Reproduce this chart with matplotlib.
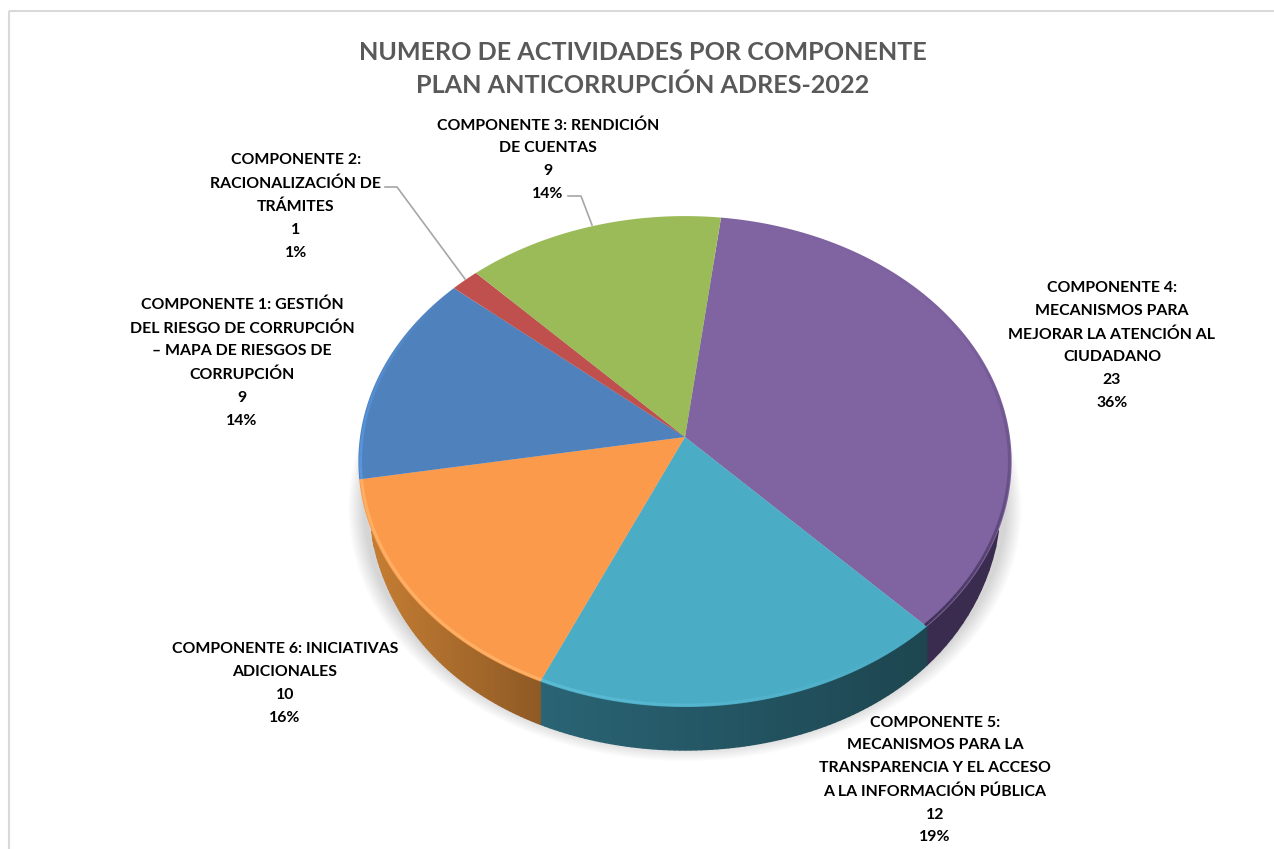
import numpy as np
import matplotlib
matplotlib.use("Agg")
import matplotlib.pyplot as plt
from matplotlib.collections import PolyCollection, LineCollection
from matplotlib.colors import to_rgb
from matplotlib.patches import Rectangle

plt.rcParams['font.family'] = ['Lato', 'DejaVu Sans']

title = "NUMERO DE ACTIVIDADES POR COMPONENTE\nPLAN ANTICORRUPCIÓN ADRES-2022"

# clockwise from the top, as drawn
names = ["COMPONENTE 4:\nMECANISMOS PARA\nMEJORAR LA ATENCIÓN AL\nCIUDADANO",
         "COMPONENTE 5:\nMECANISMOS PARA LA\nTRANSPARENCIA Y EL ACCESO\nA LA INFORMACIÓN PÚBLICA",
         "COMPONENTE 6: INICIATIVAS\nADICIONALES",
         "COMPONENTE 1: GESTIÓN\nDEL RIESGO DE CORRUPCIÓN\n– MAPA DE RIESGOS DE\nCORRUPCIÓN",
         "COMPONENTE 2:\nRACIONALIZACIÓN DE\nTRÁMITES",
         "COMPONENTE 3: RENDICIÓN\nDE CUENTAS"]
values = [23, 12, 10, 9, 1, 9]
percents = ["36%", "19%", "16%", "14%", "1%", "14%"]
colors = ["#8064a2", "#4bacc6", "#fb9a4a", "#4f81bd", "#c0504d", "#9bbb59"]
side_left = ["#3a2c4e", "#2a6475", "#c98034", "#3a5f8c", "#8e3a38", "#728a42"]
side_right = ["#3a2c4e", "#1d4650", "#8f5a25", "#3a5f8c", "#8e3a38", "#728a42"]
bevel = ["#3a2c4e", "#62c0d8", "#ffb86e", "#5a9be6", "#c0504d", "#9bbb59"]
bevel_from = [0.0, 0.0, 0.8, 0.9, 0.0, 0.0]
bevel_to = [0.9, 0.8, 0.8, 0.0, 0.0, 0.0]
label_pos = [(1112, 345.5), (935, 780), (285, 683.5), (242, 362.5), (296, 206.5), (548, 159.5)]

start = 7.0       # degrees clockwise from the top
cx, cy = 685, 437
rx, ry = 325, 243
k = 0.10          # perspective
depth = 43


def project(theta, r=1.0):
    x = r * np.sin(np.radians(theta))
    y = r * np.cos(np.radians(theta))
    return cx + rx * x / (1 + k * y), cy - ry * y / (1 + k * y)


def wall(theta):
    # wall height, runs out at the sides of the pie
    u = np.abs((np.asarray(theta) % 360 - 180) / 68)
    return depth * np.clip(1 - u ** 4, 0, 1) ** 0.6


fig = plt.figure(figsize=(12.74, 8.49), dpi=100)
ax = fig.add_axes([0, 0, 1, 1])
ax.set_xlim(0, 1274)
ax.set_ylim(849, 0)
ax.axis("off")

# chart frame, cut by the picture on the right and at the bottom
ax.add_patch(Rectangle((9, 11), 1300, 860, fill=False, ec="#d9d9d9", lw=1.5))

# soft shadow under the pie
t = np.linspace(0, 360, 361)
for i in range(14):
    sx, sy = project(t, 0.985 + i * 0.0035)
    ax.fill(sx, sy + depth + 2, color="k", alpha=0.012, lw=0, zorder=1)

edges = start + np.concatenate([[0], np.cumsum(values)]) / sum(values) * 360

# side wall
for i in range(len(values)):
    t = np.linspace(edges[i], edges[i + 1], 80)
    px, py = project(t)
    h = wall(t)
    c0, c1 = np.array(to_rgb(side_left[i])), np.array(to_rgb(side_right[i]))
    lo, hi = px.min(), px.max()
    quads, cols = [], []
    for j in range(len(t) - 1):
        if h[j] == 0 and h[j + 1] == 0:
            continue
        quads.append([(px[j], py[j]), (px[j + 1], py[j + 1]),
                      (px[j + 1], py[j + 1] + h[j + 1]), (px[j], py[j] + h[j])])
        f = (px[j] - lo) / (hi - lo)
        cols.append(c0 + (c1 - c0) * f)
    ax.add_collection(PolyCollection(quads, facecolors=cols, edgecolors=cols, linewidths=1.0, zorder=2))

# top face
for i in range(len(values)):
    t = np.linspace(edges[i], edges[i + 1], 120)
    px, py = project(t)
    ax.fill(np.r_[cx, px], np.r_[cy, py], color=colors[i], lw=0, zorder=3)
    if max(bevel_from[i], bevel_to[i]) > 0:
        bx, by = project(t, 0.993)
        segs = [[(bx[j], by[j]), (bx[j + 1], by[j + 1])] for j in range(len(t) - 1)]
        alphas = np.linspace(bevel_from[i], bevel_to[i], len(segs))
        if i == 0:
            alphas = alphas ** 3 / bevel_to[i] ** 2
        rgba = [(*to_rgb(bevel[i]), a) for a in alphas]
        ax.add_collection(LineCollection(segs, colors=rgba, linewidths=2.0, zorder=4))

# leader lines
ax.plot([385, 397, 465], [187, 187, 279], color="#a6a6a6", lw=1.2, zorder=5)
ax.plot([568, 581, 592], [196, 196, 225], color="#a6a6a6", lw=1.2, zorder=5)

for name, val, pct, (lx, ly) in zip(names, values, percents, label_pos):
    ax.text(lx, ly, f"{name}\n{val}\n{pct}", ha="center", va="center", fontsize=11.45,
            fontweight="bold", color="#000000", linespacing=1.8, zorder=6)

ax.text(643, 69, title, ha="center", va="center", fontsize=18.1, fontweight="bold",
        color="#595959", linespacing=1.5, zorder=6)

fig.savefig("out.png", dpi=100)
